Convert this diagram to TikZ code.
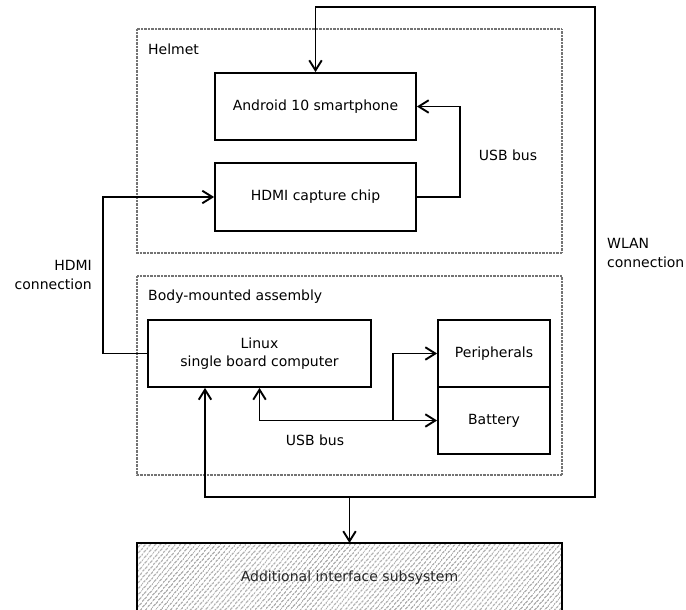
\documentclass[tikz,border=0pt]{standalone}
\usepackage{fontspec}
\setmainfont{DejaVu Sans}
\usetikzlibrary{arrows.meta,patterns.meta}
\begin{document}
\begin{tikzpicture}[x=1pt,y=-1pt,
  font=\fontsize{14}{18.5}\selectfont,
  block/.style={draw=black,line width=1.8pt,minimum width=#1,inner sep=0pt},
  group/.style={draw=black!55,dash pattern=on 0.7pt off 0.7pt,line width=1.6pt},
  link/.style={line width=1.9pt,line join=miter,>={Straight Barb[length=10pt,width=12.5pt]}},
  lbl/.style={inner sep=0pt,align=#1},
]
\useasboundingbox (0,0) rectangle (686,610);

% group frames
\draw[group] (137,29) rectangle (562,253);
\node[lbl=left,anchor=west] (helmetlbl) at (148,49) {Helmet};
\draw[group] (137,276) rectangle (562,475);
\node[lbl=left,anchor=west] (bodylbl) at (148,297) {Body-mounted assembly};

% blocks
\node[block=201pt,minimum height=67pt] (android) at (315.5,106.5) {Android 10 smartphone};
\node[block=201pt,minimum height=68pt] (hdmi) at (315.5,197) {HDMI capture chip};
\node[block=223pt,minimum height=67pt,align=center] (sbc) at (259.5,353.5) {Linux\\single board computer};
\node[block=112pt,minimum height=67pt] (periph) at (494,353.5) {Peripherals};
\node[block=112pt,minimum height=67pt] (battery) at (494,420.5) {Battery};

% hatched subsystem, running off the bottom edge
\draw[line width=1.8pt,pattern={Lines[angle=50,distance=4pt,line width=1.2pt]},pattern color=black!45]
  (137,612) -- (137,543) -- (562,543) -- (562,612);
\node[inner sep=0pt] (extra) at (349.5,578) {\textcolor{black!85}{Additional interface subsystem}};
\coordinate (extratop) at (349.5,543);

% routing points
\coordinate (wr) at (595,7);
\coordinate (wb) at (205,497);
\coordinate (wj) at (349.5,497);
\coordinate (ux) at (460,0);
\coordinate (hx) at (103,0);
\coordinate (bj) at (393,0);

% WLAN loop
\draw[link,<->] (android.north) |- (wr) |- (wb) -- (wb |- sbc.south);
\draw[link,->] (wj) -- (extratop);

% USB bus inside the helmet
\draw[link,->] (hdmi.east) -- (hdmi.east -| ux) -- (ux |- android.east) -- (android.east);

% HDMI connection
\draw[link,->] (sbc.west) -- (sbc.west -| hx) -- (hx |- hdmi.west) -- (hdmi.west);

% USB bus in the body-mounted assembly
\draw[link,<->] (sbc.south) |- (battery.west);
\draw[link,->] (bj |- battery.west) |- (periph.west);

% labels
\node[lbl=center] (usbtop) at (508,155) {USB bus};
\node[lbl=center] (usbbot) at (315,440) {USB bus};
\node[lbl=right,anchor=east] (hdmilbl) at (92,275) {HDMI\\connection};
\node[lbl=left,anchor=west] (wlanlbl) at (607,253) {WLAN\\connection};
\end{tikzpicture}
\end{document}
